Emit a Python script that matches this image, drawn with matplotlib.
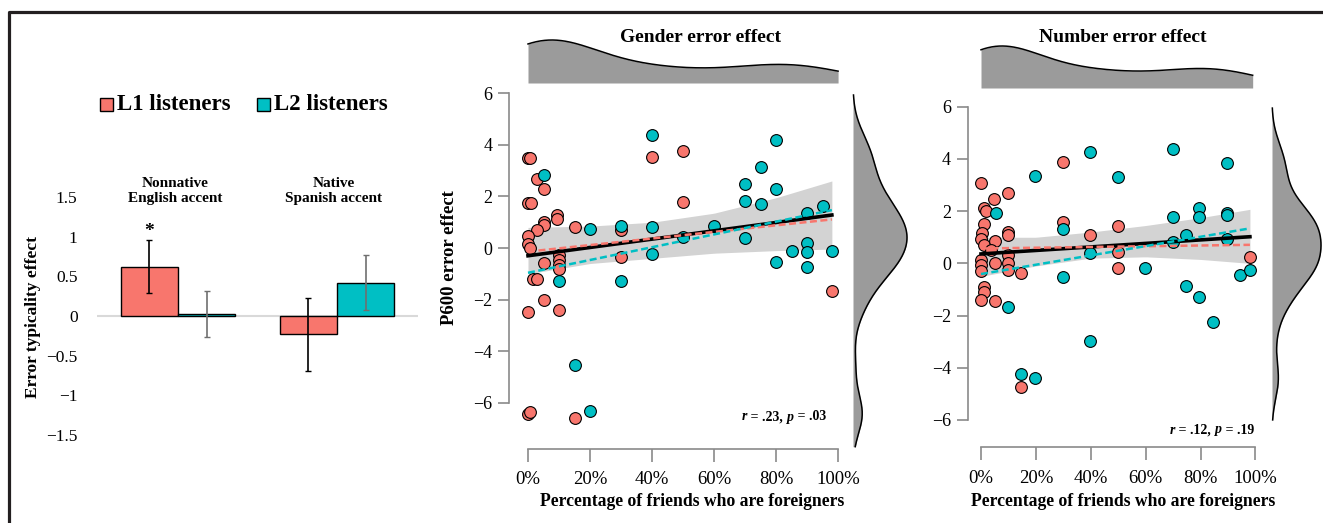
import numpy as np
import matplotlib.pyplot as plt
from matplotlib.lines import Line2D
from matplotlib.patches import Rectangle

plt.rcParams['font.family'] = ['Liberation Serif', 'DejaVu Serif']

W, H = 1323, 523
RED = '#F8766D'
CYAN = '#00BFC4'
AXGRAY = '#8a8a8a'
FILLGRAY = '#9b9b9b'

# ---- bar chart data
accents = ['Nonnative\nEnglish accent', 'Native\nSpanish accent']
l1_means = [0.62, -0.23]
l1_err = [0.335, 0.46]
l2_means = [0.02, 0.42]
l2_err = [0.29, 0.35]
bar_ticks = [1.5, 1, 0.5, 0, -0.5, -1, -1.5]
bar_ticklabels = ['1.5', '1', '0.5', '0', '\u22120.5', '\u22121', '\u22121.5']

# ---- gender error effect (x = % friends foreigners, y = P600 effect)
gender_l1_x = [0, 0.8, 3, 5, 0, 1, 9.5, 9.5, 5, 5, 3, 0, 15, 30, 0, 0.8, 5,
               10, 10, 10, 10, 1.5, 3, 30, 5, 0, 10, 0, 0.8, 15, 40, 50, 50, 98]
gender_l1_y = [3.5, 3.5, 2.69, 2.27, 1.76, 1.76, 1.28, 1.11, 1.02, 0.88, 0.70, 0.46,
               0.83, 0.70, 0.16, 0.01, -0.57, -0.27, -0.47, -0.67, -0.83, -1.21,
               -1.21, -0.36, -2.02, -2.47, -2.40, -6.45, -6.37, -6.6, 3.54, 3.76,
               1.80, -1.65]
gender_l2_x = [5.3, 20, 30, 40, 40, 10, 30, 15, 20, 40, 50, 60, 70, 70, 70, 75, 75,
               80, 80, 80, 85, 90, 90, 90, 90, 95, 98]
gender_l2_y = [2.83, 0.72, 0.87, 0.8, -0.23, -1.28, -1.26, -4.55, -6.32, 4.38, 0.44,
               0.85, 2.5, 1.83, 0.37, 3.15, 1.7, 4.18, 2.29, -0.53, -0.12, 1.34,
               0.21, -0.17, -0.72, 1.64, -0.1]
gender_fit_all = [-0.3, 1.28]
gender_fit_l1 = [-0.14, 1.11]
gender_fit_l2 = [-0.96, 1.47]
gender_band_x = [0, 20, 40, 60, 80, 98]
gender_band_lo = [-1.0, -0.6, -0.4, -0.2, -0.1, -0.04]
gender_band_hi = [0.8, 0.85, 1.0, 1.35, 1.95, 2.6]
gender_stat = ['.23', '.03']

# ---- number error effect
number_l1_x = [0, 29.8, 4.9, 9.7, 1.2, 1.9, 1, 0.5, 0, 1, 5, 10, 10, 3.5, 29.8, 39.7,
               0, 0, 5, 10, 10, 10, 14.6, 0, 1.2, 1.2, 0, 5, 14.7, 49.8, 49.8, 49.8, 98]
number_l1_y = [3.07, 3.87, 2.46, 2.71, 2.13, 2.0, 1.5, 1.15, 0.92, 0.70, 0.84, 1.21,
               1.08, 0.51, 1.59, 1.08, 0.13, -0.06, 0.0, 0.32, 0.03, -0.25, -0.38,
               -0.28, -0.92, -1.09, -1.41, -1.44, -4.73, 1.43, 0.42, -0.17, 0.25]
number_l2_x = [19.7, 39.7, 5.5, 29.8, 39.7, 29.8, 9.7, 39.7, 14.7, 19.7, 69.9, 89.6,
               49.8, 79.6, 79.6, 69.9, 89.7, 89.7, 74.7, 69.9, 89.7, 59.8, 94.4, 98,
               74.7, 79.6, 84.5]
number_l2_y = [3.36, 4.28, 1.92, 1.31, 0.41, -0.51, -1.66, -2.98, -4.24, -4.41, 4.37,
               3.86, 3.29, 2.11, 1.76, 1.79, 1.92, 1.85, 1.08, 0.83, 0.93, -0.17,
               -0.45, -0.26, -0.87, -1.28, -2.26]
number_fit_all = [0.36, 1.02]
number_fit_l1 = [0.57, 0.71]
number_fit_l2 = [-0.41, 1.34]
number_band_x = [0, 20, 40, 60, 80, 98]
number_band_lo = [-0.5, -0.1, 0.2, 0.25, 0.15, 0.0]
number_band_hi = [1.0, 1.0, 1.2, 1.45, 1.75, 2.07]
number_stat = ['.12', '.19']
fit_x = [0, 98]

pct_ticks = [0, 20, 40, 60, 80, 100]
pct_labels = ['0%', '20%', '40%', '60%', '80%', '100%']
p600_ticks = [-6, -4, -2, 0, 2, 4, 6]

fig = plt.figure(figsize=(W / 100, H / 100), dpi=100)


def px_axes(x0, y0, x1, y1):
    # axes from pixel box (top-left origin)
    return fig.add_axes([x0 / W, 1 - y1 / H, (x1 - x0) / W, (y1 - y0) / H])


def ftext(x, y, s, **kw):
    return fig.text(x / W, 1 - y / H, s, **kw)


def kde(vals, grid, bw):
    vals = np.asarray(vals)[:, None]
    d = np.exp(-0.5 * ((grid[None, :] - vals) / bw) ** 2).sum(axis=0)
    return d / d.max()


# border lines
fig.add_artist(Line2D([8.5 / W, 8.5 / W, 1], [0, 1 - 12 / H, 1 - 12 / H],
                      transform=fig.transFigure, color='#231f20', lw=2.3))

# ================= bar chart
ax = px_axes(97, 173, 418, 459)
xg = np.arange(len(accents))
bw_ = 0.36
ax.axhline(0, color='#d9d9d9', lw=1.5, zorder=0)
ax.bar(xg - bw_ / 2, l1_means, bw_, color=RED, edgecolor='black', lw=1, zorder=2)
ax.bar(xg + bw_ / 2, l2_means, bw_, color=CYAN, edgecolor='black', lw=1, zorder=2)
ax.errorbar(xg - bw_ / 2, l1_means, yerr=l1_err, fmt='none', ecolor='black',
            elinewidth=1.2, capsize=2, zorder=3)
ax.errorbar(xg + bw_ / 2, l2_means, yerr=l2_err, fmt='none', ecolor='#6f6f6f',
            elinewidth=1.2, capsize=2, zorder=3)
ax.text(xg[0] - bw_ / 2, 1.06, '*', ha='center', va='center', fontsize=14,
        fontweight='bold')
ax.set_xlim(-0.51, 1.51)
ax.set_ylim(-1.8, 1.8)
ax.set_xticks([])
ax.set_yticks(bar_ticks)
ax.set_yticklabels(bar_ticklabels, fontsize=12.5)
ax.tick_params(axis='y', length=0, pad=14)
for s in ax.spines.values():
    s.set_visible(False)
ax.patch.set_alpha(0)
ftext(175, 191, accents[0], ha='center', va='center', fontsize=11, fontweight='bold')
ftext(334, 191, accents[1], ha='center', va='center', fontsize=11, fontweight='bold')
ftext(33, 317, 'Error typicality effect', rotation=90, ha='center', va='center',
      fontsize=12.5, fontweight='bold')
# legend
for lx, tx, col, lab in [(100, 117, RED, 'L1 listeners'), (257, 274, CYAN, 'L2 listeners')]:
    fig.add_artist(Rectangle((lx / W, 1 - 111 / H), 13 / W, 13 / H, transform=fig.transFigure,
                             facecolor=col, edgecolor='black', lw=1))
    ftext(tx, 104, lab, ha='left', va='center', fontsize=16.5, fontweight='bold')


# ================= scatter panels
def scatter_panel(box, xlim, ylim, left_out, bottom_out, l1x, l1y, l2x, l2y,
                  fit_all, fit_l1, fit_l2, band_x, band_lo, band_hi):
    a = px_axes(*box)
    bx = np.linspace(band_x[0], band_x[-1], 100)
    a.fill_between(bx, np.interp(bx, band_x, band_lo), np.interp(bx, band_x, band_hi),
                   color='#d3d3d3', lw=0, zorder=1)
    a.scatter(l1x, l1y, s=72, color=RED, edgecolor='black', lw=0.8, zorder=3)
    a.scatter(l2x, l2y, s=72, color=CYAN, edgecolor='black', lw=0.8, zorder=3)
    a.plot(fit_x, fit_all, color='black', lw=2.6, zorder=4)
    a.plot(fit_x, fit_l1, color=RED, lw=1.8, ls=(0, (2.8, 1.4)), zorder=5)
    a.plot(fit_x, fit_l2, color=CYAN, lw=1.8, ls=(0, (2.8, 1.4)), zorder=5)
    a.set_xlim(*xlim)
    a.set_ylim(*ylim)
    a.spines['top'].set_visible(False)
    a.spines['right'].set_visible(False)
    a.spines['left'].set_position(('outward', left_out * 0.72))
    a.spines['bottom'].set_position(('outward', bottom_out * 0.72))
    a.spines['left'].set_bounds(-6, 6)
    a.spines['bottom'].set_bounds(0, 100)
    for s in ['left', 'bottom']:
        a.spines[s].set_color(AXGRAY)
        a.spines[s].set_linewidth(1.2)
    a.set_yticks(p600_ticks)
    a.set_xticks(pct_ticks)
    a.set_xticklabels(pct_labels)
    a.tick_params(axis='y', length=8, width=1.2, color=AXGRAY, labelsize=13, pad=4)
    a.tick_params(axis='x', length=9, width=1.2, color=AXGRAY, labelsize=13.5, pad=7)
    a.patch.set_alpha(0)
    return a


ax_g = scatter_panel((512, 85, 848, 425), (-5.16, 103.2), (-6.86, 6.32), 3, 24,
                     gender_l1_x, gender_l1_y, gender_l2_x, gender_l2_y,
                     gender_fit_all, gender_fit_l1, gender_fit_l2,
                     gender_band_x, gender_band_lo, gender_band_hi)
ax_n = scatter_panel((970, 100, 1262, 440), (-4.01, 102.4), (-6.77, 6.26), 2.3, 7.3,
                     number_l1_x, number_l1_y, number_l2_x, number_l2_y,
                     number_fit_all, number_fit_l1, number_fit_l2,
                     number_band_x, number_band_lo, number_band_hi)


# marginal densities
def top_density(box, xlim, xs, x_end, bw):
    a = px_axes(*box)
    g = np.linspace(0, x_end, 300)
    d = kde(xs, g, bw)
    a.fill_between(g, 0, d, color=FILLGRAY, lw=0)
    a.plot(g, d, color='black', lw=1.1, clip_on=False)
    a.set_xlim(*xlim)
    a.set_ylim(0, 1)
    a.axis('off')


def side_density(box, ylim, ys, lo, hi, bw):
    a = px_axes(*box)
    g = np.linspace(lo, hi, 300)
    d = kde(ys, g, bw)
    a.fill_betweenx(g, 0, d, color=FILLGRAY, lw=0)
    a.plot(d, g, color='black', lw=1.1, clip_on=False)
    a.set_ylim(*ylim)
    a.set_xlim(0, 1)
    a.axis('off')


top_density((512, 40, 848, 83), (-5.16, 103.2), gender_l1_x + gender_l2_x, 100, 15)
top_density((970, 46, 1262, 88), (-4.01, 102.4), number_l1_x + number_l2_x, 99, 15)
side_density((853, 90, 907, 450), ((248 - 450) / 25.8, (248 - 90) / 25.8),
             gender_l1_y + gender_l2_y, -7.7, 5.93, 0.75)
side_density((1272, 100, 1321, 440), (-6.77, 6.26),
             number_l1_y + number_l2_y, -6.0, 5.95, 0.7)


def stat_text(a, x, y, vals):
    # r = .xx, p = .xx with italic r and p
    t = ftext(x, y, 'r', ha='left', va='center', fontsize=10, fontweight='bold', style='italic')
    for s, it in [(' = %s, ' % vals[0], False), ('p', True), (' = %s' % vals[1], False)]:
        t = a.annotate(s, xy=(1, 0.5), xycoords=t, ha='left', va='center', fontsize=10,
                       fontweight='bold', style='italic' if it else 'normal',
                       annotation_clip=False)


# panel texts
ftext(700, 37, 'Gender error effect', ha='center', va='center', fontsize=14, fontweight='bold')
ftext(1123, 38, 'Number error effect', ha='center', va='center', fontsize=14, fontweight='bold')
ftext(450, 258, 'P600 error effect', rotation=90, ha='center', va='center',
      fontsize=13.5, fontweight='bold')
ftext(692, 502, 'Percentage of friends who are foreigners', ha='center', va='center',
      fontsize=12.7, fontweight='bold')
ftext(1123, 501, 'Percentage of friends who are foreigners', ha='center', va='center',
      fontsize=12.7, fontweight='bold')
stat_text(ax_g, 742, 417, gender_stat)
stat_text(ax_n, 1170, 430, number_stat)

fig.savefig('out.png', dpi=100)
